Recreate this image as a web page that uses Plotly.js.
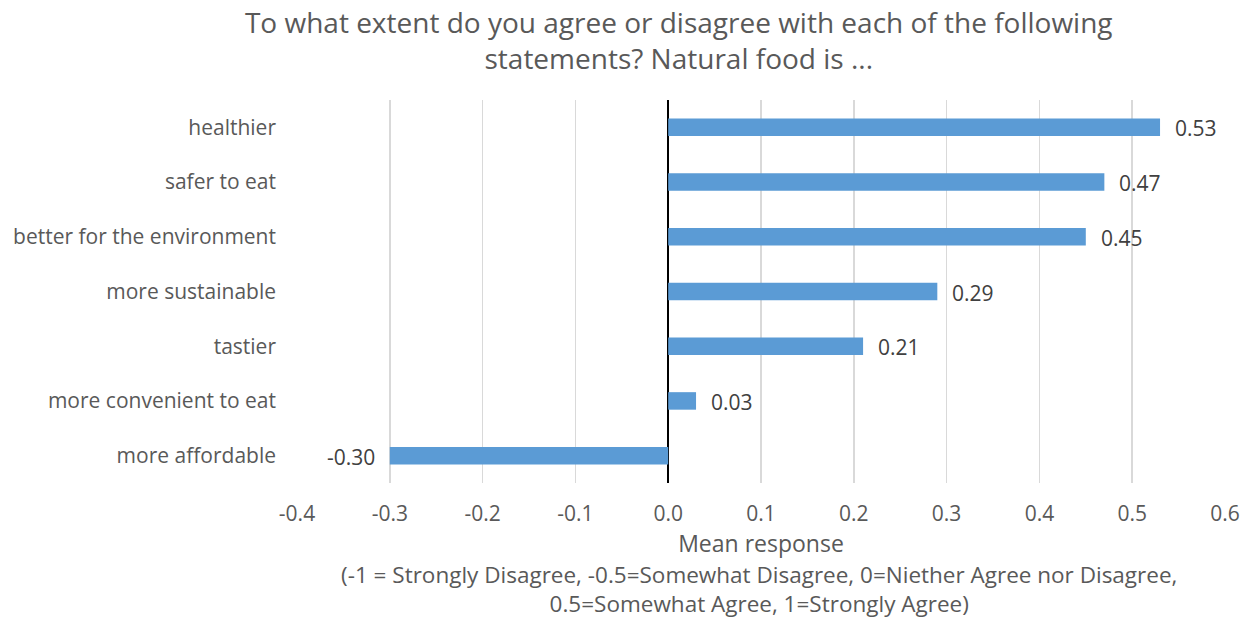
<!DOCTYPE html>
<html>
<head>
<meta charset="utf-8">
<script src="https://cdn.plot.ly/plotly-3.0.1.min.js"></script>
<style>
  html, body { margin: 0; padding: 0; background: #fff; }
  #chart { width: 1250px; height: 619px; }
</style>
</head>
<body>
<div id="chart"></div>
<script>
// Statements, listed from top to bottom
const statements = [
  "healthier",
  "safer to eat",
  "better for the environment",
  "more sustainable",
  "tastier",
  "more convenient to eat",
  "more affordable"
];
// Mean response per statement
const meanResponse = [0.53, 0.47, 0.45, 0.29, 0.21, 0.03, -0.30];
const xTicks = [-0.4, -0.3, -0.2, -0.1, 0.0, 0.1, 0.2, 0.3, 0.4, 0.5, 0.6];
const xTickText = xTicks.map(v => v.toFixed(1));
const scaleLines = [
  "(-1 = Strongly Disagree, -0.5=Somewhat Disagree, 0=Niether Agree nor Disagree,",
  "0.5=Somewhat Agree, 1=Strongly Agree)"
];

const FONT = "'Open Sans', Lato, sans-serif";
const GREY = "#595959";

// plot area in pixels
const W = 1250, H = 619;
const PL = 297, PR = 1225, PT = 100, PB = 483;
const toPaperX = px => (px - PL) / (PR - PL);
const toPaperY = py => (PB - py) / (PB - PT);

const bars = {
  type: "bar",
  orientation: "h",
  x: meanResponse,
  y: statements,
  width: 0.32,
  marker: { color: "#5B9BD5" },
  hoverinfo: "x+y"
};

// Value labels sit just beyond the end of each bar
const valueLabels = meanResponse.map((v, i) => ({
  x: v,
  y: statements[i],
  xref: "x",
  yref: "y",
  text: v.toFixed(2),
  showarrow: false,
  xanchor: v >= 0 ? "left" : "right",
  xshift: v >= 0 ? 13 : -13,
  yshift: -1,
  font: { family: FONT, size: 21, color: "#404040" }
}));

// Scale explanation under the axis title
const scaleNote = {
  text: scaleLines.join("<br>"),
  x: toPaperX(759),
  y: toPaperY(589),
  xref: "paper",
  yref: "paper",
  xanchor: "center",
  yanchor: "middle",
  align: "center",
  showarrow: false,
  font: { family: FONT, size: 22.5, color: GREY }
};

const layout = {
  width: W,
  height: H,
  paper_bgcolor: "#fff",
  plot_bgcolor: "#fff",
  margin: { l: PL, r: W - PR, t: PT, b: H - PB },
  showlegend: false,
  title: {
    text: "To what extent do you agree or disagree with each of the following<br>statements? Natural food is ...",
    x: 0.543,
    xref: "container",
    xanchor: "center",
    y: 1 - 33 / H,
    yref: "container",
    yanchor: "middle",
    font: { family: FONT, size: 28, color: GREY }
  },
  xaxis: {
    range: [-0.4, 0.6],
    tickvals: xTicks,
    ticktext: xTickText,
    showgrid: true,
    gridcolor: "#D9D9D9",
    gridwidth: 1.5,
    zeroline: true,
    zerolinecolor: "#000",
    zerolinewidth: 2,
    showline: false,
    ticks: "",
    ticklabelstandoff: 16,
    tickfont: { family: FONT, size: 21, color: GREY },
    title: {
      text: "Mean response",
      font: { family: FONT, size: 23, color: GREY },
      standoff: 1
    },
    fixedrange: true
  },
  yaxis: {
    type: "category",
    autorange: "reversed",
    showgrid: false,
    zeroline: false,
    showline: false,
    ticks: "",
    ticklabelstandoff: 20,
    tickfont: { family: FONT, size: 21, color: GREY },
    fixedrange: true
  },
  annotations: valueLabels.concat([scaleNote])
};

Plotly.newPlot("chart", [bars], layout, { displayModeBar: false, staticPlot: true });
</script>
</body>
</html>
